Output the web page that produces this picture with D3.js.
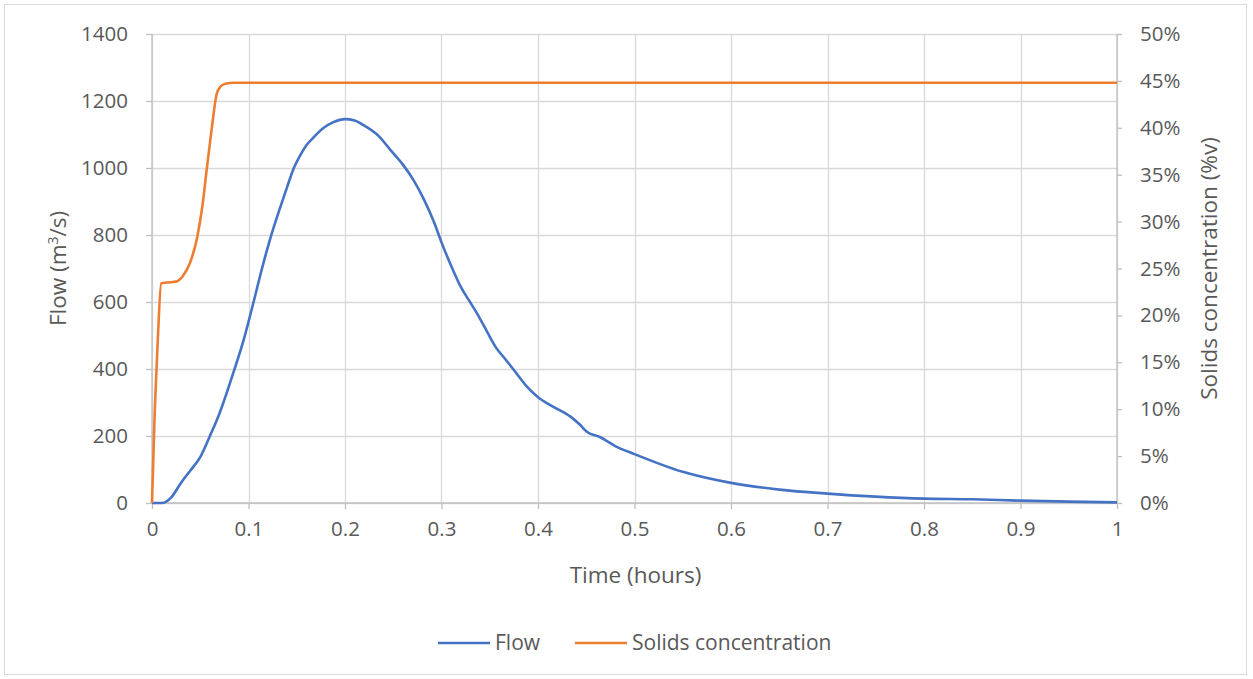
<!DOCTYPE html>
<html>
<head>
<meta charset="utf-8">
<script src="https://cdn.jsdelivr.net/npm/d3@7"></script>
<style>
  html, body { margin: 0; padding: 0; background: #ffffff; }
  svg { display: block; }
  text { font-family: "Open Sans", "Noto Sans", sans-serif; fill: #595959; }
</style>
</head>
<body>
<svg id="chart" width="1253" height="679"></svg>
<script>
// ---- Data ----
const flowTime = [0,0.01,0.02,0.03,0.04,0.05,0.06,0.07,0.074,0.085,0.095,0.105,0.114,0.123,0.132,0.14,0.147,0.154,0.16,0.167,0.178,0.188,0.2,0.21,0.219,0.235,0.247,0.26,0.271,0.282,0.292,0.3,0.31,0.32,0.33,0.339,0.348,0.356,0.366,0.375,0.389,0.4,0.416,0.434,0.443,0.451,0.464,0.48,0.5,0.55,0.6,0.65,0.7,0.75,0.8,0.85,0.9,0.95,1];
const flowValues = [0,0,17,60,98,137,200,268,300,395,487,597,700,794,875,943,1000,1040,1068,1090,1120,1137,1146,1142,1128,1095,1054,1010,964,905,840,778,708,645,598,555,507,466,430,397,346,316,287,257,235,212,197,170,146,93,60,40,28,19,13,11,7,4,2];

const solidsTime = [0,0.003,0.006,0.0095,0.015,0.025,0.032,0.039,0.047,0.052,0.057,0.062,0.067,0.071,0.076,0.085,1];
const solidsValues = [0,10.2,17.4,23.4,23.5,23.6,24.2,25.5,28.4,31.5,35.8,40,43.6,44.4,44.7,44.8,44.8];

const xTicks = [0,0.1,0.2,0.3,0.4,0.5,0.6,0.7,0.8,0.9,1];
const yLeftTicks = [0,200,400,600,800,1000,1200,1400];
const yRightTicks = [0,5,10,15,20,25,30,35,40,45,50];

const seriesNames = ["Flow", "Solids concentration"];
const seriesColors = ["#4472c4", "#ed7d31"];

// ---- Layout ----
const svg = d3.select("#chart");
const pLeft = 152, pRight = 1117, pTop = 34, pBottom = 503;

const x = d3.scaleLinear().domain([0, 1]).range([pLeft, pRight]);
const yL = d3.scaleLinear().domain([0, 1400]).range([pBottom, pTop]);
const yR = d3.scaleLinear().domain([0, 50]).range([pBottom, pTop]);

// outer border
svg.append("rect")
  .attr("x", 4.5).attr("y", 4.5).attr("width", 1242).attr("height", 670)
  .attr("fill", "#ffffff").attr("stroke", "#d9d9d9").attr("stroke-width", 1);

// gridlines
const grid = svg.append("g");
grid.selectAll("line.h").data(yLeftTicks).join("line")
  .attr("x1", pLeft).attr("x2", pRight)
  .attr("y1", d => Math.round(yL(d)) + 0.5).attr("y2", d => Math.round(yL(d)) + 0.5)
  .attr("stroke", "#d9d9d9").attr("stroke-width", 1.3);
grid.selectAll("line.v").data(xTicks).join("line")
  .attr("y1", pTop).attr("y2", pBottom)
  .attr("x1", d => Math.round(x(d)) + 0.5).attr("x2", d => Math.round(x(d)) + 0.5)
  .attr("stroke", "#d9d9d9").attr("stroke-width", 1.3);

// axes
const fontSize = "20.5px";
const axL = svg.append("g").attr("transform", `translate(${pLeft},0)`)
  .call(d3.axisLeft(yL).tickValues(yLeftTicks).tickSize(6).tickPadding(18).tickFormat(d3.format("d")));
const axR = svg.append("g").attr("transform", `translate(${pRight},0)`)
  .call(d3.axisRight(yR).tickValues(yRightTicks).tickSize(5).tickPadding(18).tickFormat(d => d + "%"));
const axB = svg.append("g").attr("transform", `translate(0,${pBottom})`)
  .call(d3.axisBottom(x).tickValues(xTicks).tickSize(6).tickPadding(12).tickFormat(d => d3.format("")(d)));

[axL, axR, axB].forEach(a => {
  a.select(".domain").attr("stroke", "#bfbfbf").attr("stroke-width", 1.3);
  a.selectAll(".tick line").attr("stroke", "#bfbfbf").attr("stroke-width", 1.3);
  a.selectAll(".tick text").style("font-family", '"Open Sans", sans-serif')
    .style("font-size", fontSize).attr("fill", "#595959");
});
axL.select(".domain").attr("d", `M0,${pBottom}V${pTop}`);
axR.select(".domain").attr("d", `M0,${pBottom}V${pTop}`);
axB.select(".domain").attr("d", `M${pLeft},0H${pRight}`);

// axis titles
svg.append("text")
  .attr("transform", `translate(66,${(pTop + pBottom) / 2}) rotate(-90)`)
  .attr("text-anchor", "middle").style("font-size", "22.5px")
  .html('Flow (m<tspan dy="-8" font-size="14px">3</tspan><tspan dy="8">/s)</tspan>');
svg.append("text")
  .attr("transform", `translate(1217,${(pTop + pBottom) / 2}) rotate(-90)`)
  .attr("text-anchor", "middle").style("font-size", "22.5px")
  .text("Solids concentration (%v)");
svg.append("text")
  .attr("x", (pLeft + pRight) / 2 + 1).attr("y", 583)
  .attr("text-anchor", "middle").style("font-size", "22.5px")
  .text("Time (hours)");

// lines
const flowData = flowTime.map((t, i) => [t, flowValues[i]]);
const solidsData = solidsTime.map((t, i) => [t, solidsValues[i]]);

svg.append("path").datum(flowData)
  .attr("fill", "none").attr("stroke", seriesColors[0]).attr("stroke-width", 2.6)
  .attr("stroke-linejoin", "round")
  .attr("d", d3.line().x(d => x(d[0])).y(d => yL(d[1])).curve(d3.curveMonotoneX));

svg.append("path").datum(solidsData)
  .attr("fill", "none").attr("stroke", seriesColors[1]).attr("stroke-width", 2.6)
  .attr("stroke-linejoin", "round")
  .attr("d", d3.line().x(d => x(d[0])).y(d => yR(d[1])).curve(d3.curveMonotoneX));

// legend
const legendItems = [
  { name: seriesNames[0], color: seriesColors[0], x: 438 },
  { name: seriesNames[1], color: seriesColors[1], x: 575 }
];
const lg = svg.append("g");
legendItems.forEach(it => {
  lg.append("line").attr("x1", it.x).attr("x2", it.x + 52)
    .attr("y1", 643).attr("y2", 643)
    .attr("stroke", it.color).attr("stroke-width", 2.6);
  lg.append("text").attr("x", it.x + 57).attr("y", 650)
    .style("font-size", "21px").text(it.name);
});
</script>
</body>
</html>
